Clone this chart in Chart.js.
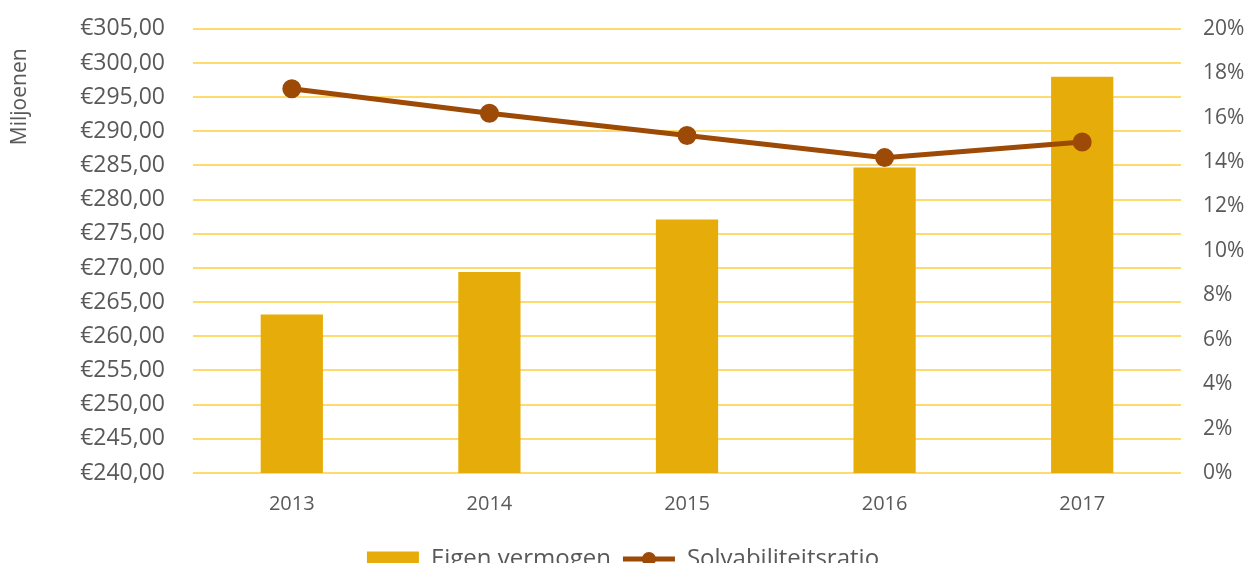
<!DOCTYPE html>
<html>
<head>
<meta charset="utf-8">
<script src="https://cdn.jsdelivr.net/npm/chart.js@4"></script>
<style>
    html, body { margin: 0; padding: 0; overflow: hidden; background: #fff; }
    #wrap { width: 1246px; height: 594px; position: relative; top: -13px; }
</style>
</head>
<body>
<div id="wrap"><canvas id="chart"></canvas></div>
<script>
// --- Data ---
const years = ['2013', '2014', '2015', '2016', '2017'];
const eigenVermogen = [263.2, 269.4, 277.1, 284.7, 298.0];
const solvabiliteit = [17.3, 16.2, 15.2, 14.2, 14.9];
const leftTicks = { min: 240, max: 305, step: 5 };
const rightTicks = { min: 0, max: 20, step: 2 };
const axisTitle = 'Miljoenen';

const textColor = '#595959';
const gridColor = '#FFDA6E';
const barColor = '#E6AD0A';
const lineColor = '#9C4A06';
const fontFamily = '"Open Sans", Lato, sans-serif';

// draws the line+dot marker for the line dataset in the legend
const legendMarker = {
    id: 'legendMarker',
    afterDraw(chart) {
        const legend = chart.legend;
        if (!legend || !legend.legendHitBoxes) return;
        const ctx = chart.ctx;
        legend.legendItems.forEach((item, i) => {
            if (item.datasetIndex !== 0) return;
            const box = legend.legendHitBoxes[i];
            const y = box.top + box.height / 2;
            const x0 = box.left;
            const x1 = box.left + legend.options.labels.boxWidth;
            ctx.save();
            ctx.strokeStyle = lineColor;
            ctx.lineWidth = 5;
            ctx.beginPath();
            ctx.moveTo(x0, y);
            ctx.lineTo(x1, y);
            ctx.stroke();
            ctx.fillStyle = lineColor;
            ctx.beginPath();
            ctx.arc((x0 + x1) / 2, y, 7, 0, Math.PI * 2);
            ctx.fill();
            ctx.restore();
        });
    }
};

// rotated axis title near the top of the left axis
const leftTitle = {
    id: 'leftTitle',
    afterDraw(chart) {
        const ctx = chart.ctx;
        const top = chart.chartArea.top;
        ctx.save();
        ctx.translate(20, top + 68);
        ctx.rotate(-Math.PI / 2);
        ctx.font = '21px ' + fontFamily;
        ctx.fillStyle = textColor;
        ctx.textAlign = 'center';
        ctx.textBaseline = 'middle';
        ctx.fillText(axisTitle, 0, 0);
        ctx.restore();
    }
};

new Chart(document.getElementById('chart').getContext('2d'), {
    data: {
        labels: years,
        datasets: [{
            type: 'line',
            label: 'Solvabiliteitsratio',
            data: solvabiliteit,
            yAxisID: 'y2',
            borderColor: lineColor,
            backgroundColor: lineColor,
            borderWidth: 5,
            pointRadius: 7,
            pointHoverRadius: 7,
            tension: 0,
            order: 0
        }, {
            type: 'bar',
            label: 'Eigen vermogen',
            data: eigenVermogen,
            yAxisID: 'y',
            backgroundColor: barColor,
            barPercentage: 0.63,
            categoryPercentage: 0.5,
            order: 1
        }]
    },
    options: {
        responsive: true,
        maintainAspectRatio: false,
        animation: false,
        layout: { padding: { top: 4, right: 0, left: 0, bottom: 0 } },
        scales: {
            x: {
                grid: { display: false, drawTicks: false },
                border: { display: false },
                ticks: { color: textColor, font: { family: fontFamily, size: 20 }, padding: 19 }
            },
            y: {
                position: 'left',
                min: leftTicks.min,
                max: leftTicks.max,
                grid: { color: gridColor, lineWidth: 2, drawTicks: false },
                border: { display: false },
                afterFit: scale => { scale.width = 193; },
                ticks: {
                    stepSize: leftTicks.step,
                    color: textColor,
                    padding: 28,
                    font: { family: fontFamily, size: 23 },
                    callback: v => '€' + v.toFixed(2).replace('.', ',')
                }
            },
            y2: {
                position: 'right',
                min: rightTicks.min,
                max: rightTicks.max,
                grid: { display: false, drawTicks: false },
                border: { display: false },
                afterFit: scale => { scale.width = 65; },
                ticks: {
                    stepSize: rightTicks.step,
                    color: textColor,
                    padding: 22,
                    font: { family: fontFamily, size: 21 },
                    callback: v => v + '%'
                }
            }
        },
        plugins: {
            tooltip: { enabled: false },
            legend: {
                position: 'bottom',
                labels: {
                    color: textColor,
                    font: { family: fontFamily, size: 24 },
                    boxWidth: 52,
                    boxHeight: 15,
                    padding: 12,
                    generateLabels(chart) {
                        return [1, 0].map(i => {
                            const ds = chart.data.datasets[i];
                            return {
                                text: ds.label,
                                datasetIndex: i,
                                fillStyle: i === 1 ? barColor : 'rgba(0,0,0,0)',
                                strokeStyle: 'rgba(0,0,0,0)',
                                lineWidth: 0,
                                fontColor: textColor,
                                hidden: false
                            };
                        });
                    }
                }
            }
        }
    },
    plugins: [legendMarker, leftTitle]
});
</script>
</body>
</html>
